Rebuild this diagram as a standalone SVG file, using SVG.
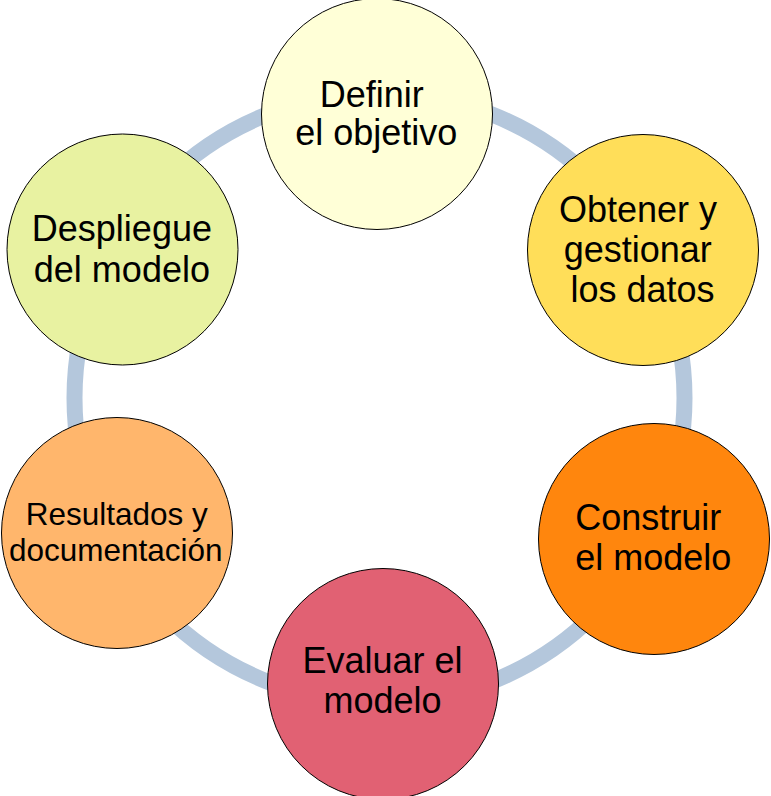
<svg xmlns="http://www.w3.org/2000/svg" width="771" height="796" viewBox="0 0 771 796">
<style>
.node{stroke:#000;stroke-width:1}
.ring{fill:none;stroke:#b4c7dc;stroke-width:16}
text{font-family:"Liberation Sans",Arial,sans-serif;fill:#000;text-anchor:middle}
.t36{font-size:36px}
.t31{font-size:31.5px}
</style>
<rect width="771" height="796" fill="#fff"/>
<g id="connectors">
<circle class="ring" cx="379.5" cy="398" r="305"/>
</g>
<g id="definir">
<circle class="node" cx="377" cy="114" r="115.5" fill="#ffffd7"/>
<text class="t36" x="371.7" y="106.7">Definir</text>
<text class="t36" x="376.3" y="145">el objetivo</text>
</g>
<g id="obtener">
<circle class="node" cx="643" cy="250" r="115.5" fill="#ffde59"/>
<text class="t36" x="638" y="221.7">Obtener y</text>
<text class="t36" x="637.7" y="261.7">gestionar</text>
<text class="t36" x="642.5" y="301.7">los datos</text>
</g>
<g id="construir">
<circle class="node" cx="654" cy="539" r="115.5" fill="#ff860d"/>
<text class="t36" x="648.3" y="530.3">Construir</text>
<text class="t36" x="653.3" y="570">el modelo</text>
</g>
<g id="evaluar">
<circle class="node" cx="383" cy="684" r="115.5" fill="#e16173"/>
<text class="t36" x="382.5" y="673.3">Evaluar el</text>
<text class="t36" x="382.5" y="712.7">modelo</text>
</g>
<g id="resultados">
<circle class="node" cx="117" cy="533" r="115.5" fill="#ffb66c"/>
<text class="t31" x="116.7" y="525.3">Resultados y</text>
<text class="t31" x="115.8" y="561">documentación</text>
</g>
<g id="despliegue">
<circle class="node" cx="122.5" cy="249.5" r="115.5" fill="#e8f2a1"/>
<text class="t36" x="121.9" y="240.7">Despliegue</text>
<text class="t36" x="121.9" y="281.7">del modelo</text>
</g>
</svg>
